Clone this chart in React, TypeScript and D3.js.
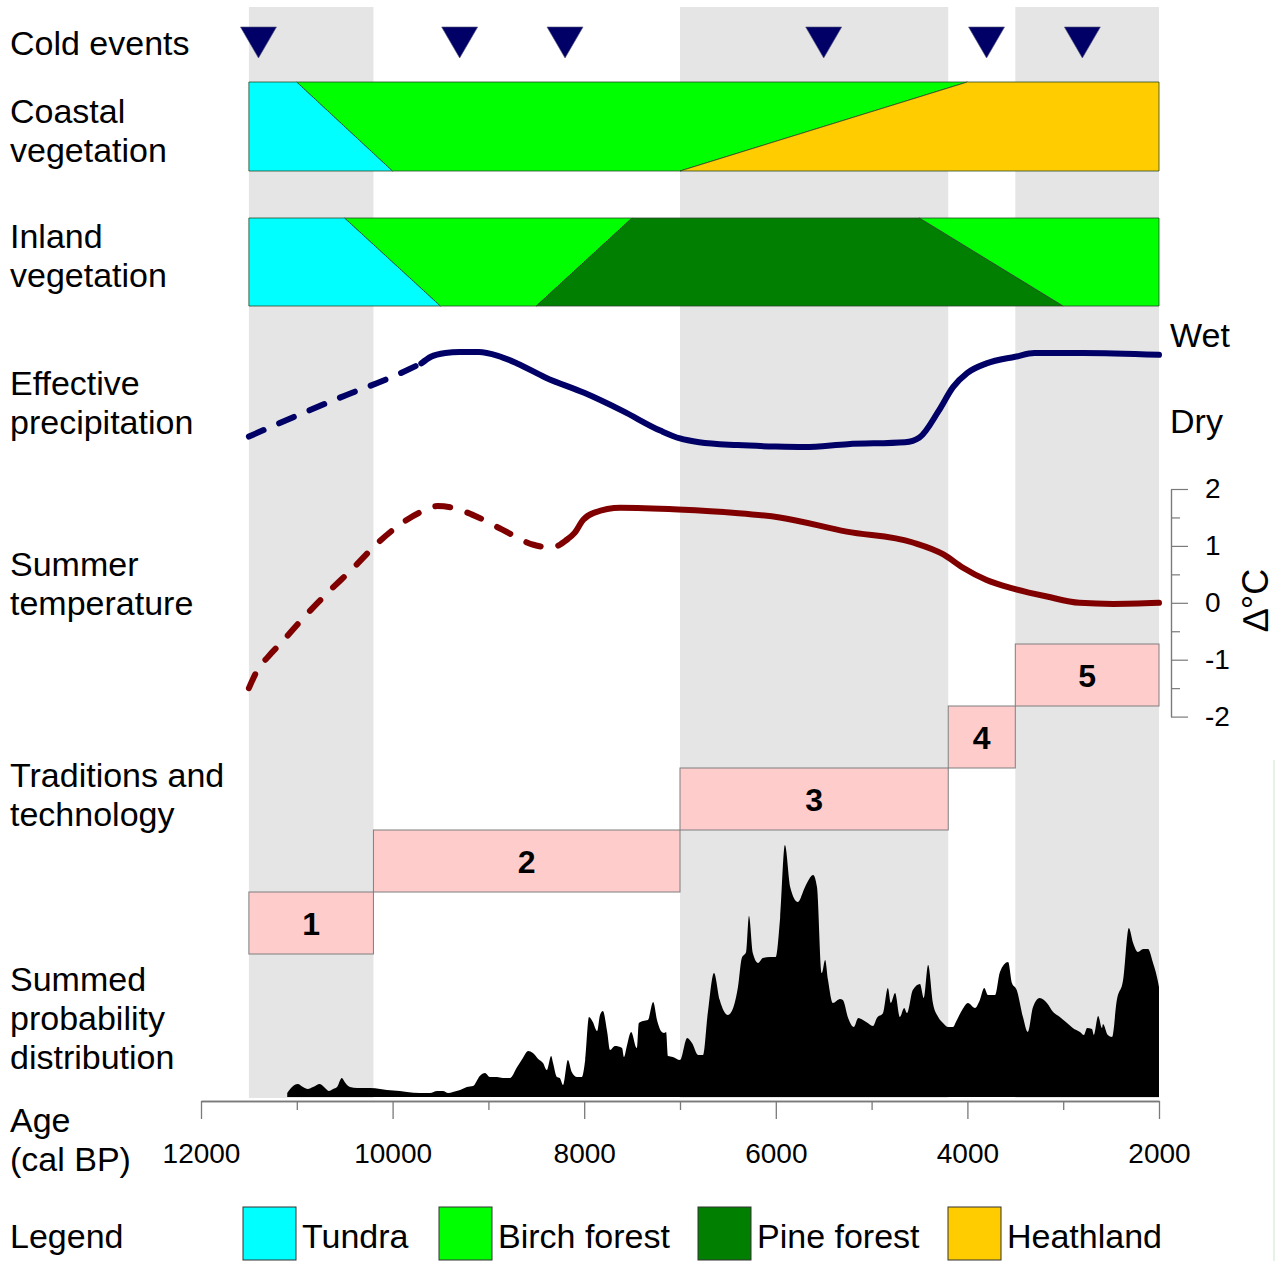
import React, { useEffect, useRef } from 'react';
import * as d3 from 'd3';

const W = 1283;
const H = 1261;
const FONT = '"Liberation Sans", Arial, sans-serif';

// cold events, cal BP
const coldEvents = [11400, 9300, 8200, 5500, 3800, 2800];

// traditions / technology periods (cal BP)
const periods = [[11500, 10200], [10200, 7000], [7000, 4200], [4200, 3500], [3500, 2000]];
const periodLabels = ['1', '2', '3', '4', '5'];

const vegTypes = ['Tundra', 'Birch forest', 'Pine forest', 'Heathland'];
const vegColors = ['#00ffff', '#00ff00', '#007f00', '#ffcc00'];

// zones: [type, top start, top end, bottom end, bottom start]
const coastalZones: [string, number, number, number, number][] = [
  ['Tundra', 11500, 11000, 10000, 11500],
  ['Birch forest', 11000, 4000, 7000, 10000],
  ['Heathland', 4000, 2000, 2000, 7000],
];
const inlandZones: [string, number, number, number, number][] = [
  ['Tundra', 11500, 10500, 9500, 11500],
  ['Birch forest', 10500, 7500, 8500, 9500],
  ['Pine forest', 7500, 4500, 3000, 8500],
  ['Birch forest', 4500, 2000, 2000, 3000],
];

// effective precipitation index (0 = dry, 1 = wet)
const precipDashed = [[11500, 0.11], [11000, 0.33], [10500, 0.54], [10000, 0.74], [9700, 0.88]];
const precipSolid = [
  [9700, 0.88], [9600, 0.95], [9450, 0.99], [9300, 1.0], [9100, 1.0], [8900, 0.96], [8700, 0.88],
  [8400, 0.73], [8000, 0.57], [7600, 0.38], [7200, 0.17], [7000, 0.09], [6800, 0.05], [6400, 0.02],
  [6000, 0.005], [5700, 0.0], [5250, 0.03], [4650, 0.05], [4500, 0.1], [4300, 0.38], [4150, 0.63],
  [4000, 0.78], [3800, 0.88], [3500, 0.95], [3300, 0.99], [2800, 0.99], [2000, 0.97],
];

// summer temperature anomaly, °C
const tempDashed = [
  [11500, -1.5], [11410, -1.18], [11300, -0.95], [11150, -0.68], [10950, -0.3], [10700, 0.14],
  [10400, 0.63], [10150, 1.06], [9850, 1.46], [9700, 1.6], [9530, 1.7], [9370, 1.67], [9170, 1.55],
  [8860, 1.29], [8530, 1.02], [8340, 0.97], [8180, 1.11],
];
const tempSolid = [
  [8180, 1.11], [8100, 1.23], [8010, 1.46], [7900, 1.58], [7620, 1.67], [7020, 1.64], [6420, 1.58],
  [5960, 1.5], [5260, 1.25], [4570, 1.06], [4250, 0.85], [4050, 0.62], [3800, 0.4], [3520, 0.25],
  [3170, 0.11], [2830, 0.0], [2480, -0.02], [2000, 0.0],
];

// summed probability distribution (relative, x1000)
const spd = [
  [11100, 0.04], [11050, 0.1], [10990, 0.13], [10935, 0.1], [10885, 0.08], [10830, 0.1],
  [10760, 0.13], [10705, 0.09], [10665, 0.06], [10620, 0.08], [10580, 0.1], [10530, 0.19], [10500, 0.15],
  [10445, 0.1], [10370, 0.09], [10235, 0.09], [10130, 0.08], [10060, 0.07], [9925, 0.06], [9850, 0.05],
  [9715, 0.04], [9610, 0.04], [9535, 0.06], [9475, 0.06], [9420, 0.04], [9370, 0.05], [9295, 0.07],
  [9225, 0.1], [9160, 0.11], [9090, 0.21], [9035, 0.24], [8985, 0.2], [8910, 0.2], [8850, 0.19],
  [8775, 0.19], [8700, 0.3], [8640, 0.39], [8585, 0.46], [8535, 0.44], [8480, 0.38], [8430, 0.34],
  [8390, 0.27], [8345, 0.41], [8325, 0.34], [8285, 0.2], [8255, 0.19], [8220, 0.12], [8170, 0.37],
  [8130, 0.25], [8075, 0.2], [8025, 0.2], [7990, 0.37], [7950, 0.8], [7910, 0.75], [7865, 0.66],
  [7835, 0.82], [7805, 0.86], [7760, 0.65], [7730, 0.47], [7680, 0.51], [7605, 0.49], [7585, 0.4],
  [7555, 0.51], [7510, 0.65], [7450, 0.49], [7430, 0.74], [7385, 0.76], [7335, 0.77], [7280, 0.95],
  [7240, 0.77], [7190, 0.65], [7165, 0.64], [7145, 0.65], [7125, 0.41], [7075, 0.4], [7000, 0.37],
  [6925, 0.59], [6875, 0.54], [6810, 0.42], [6760, 0.42], [6710, 0.84], [6645, 1.24], [6585, 0.97],
  [6500, 0.82], [6445, 0.89], [6395, 1.1], [6355, 1.39], [6310, 1.45], [6280, 1.81], [6240, 1.44],
  [6185, 1.34], [6135, 1.39], [6060, 1.4], [6000, 1.4], [5955, 1.79], [5905, 2.52], [5850, 2.1],
  [5770, 1.95], [5695, 2.1], [5610, 2.22], [5570, 2.1], [5520, 1.24], [5485, 1.37], [5455, 1.17],
  [5405, 0.94], [5330, 0.98], [5300, 0.97], [5245, 0.79], [5185, 0.7], [5140, 0.79], [5090, 0.77],
  [5040, 0.74], [4985, 0.71], [4945, 0.79], [4880, 0.84], [4830, 1.09], [4800, 0.94], [4755, 1.04],
  [4705, 0.8], [4660, 0.89], [4630, 0.84], [4570, 1.07], [4495, 1.13], [4455, 0.99], [4410, 1.32],
  [4360, 0.94], [4305, 0.8], [4255, 0.74], [4205, 0.7], [4150, 0.7], [4120, 0.75], [4055, 0.87],
  [3995, 0.94], [3920, 0.89], [3870, 0.97], [3825, 1.09], [3785, 1.02], [3710, 1.02], [3660, 1.25],
  [3575, 1.35], [3535, 1.14], [3485, 1.07], [3420, 0.8], [3370, 0.65], [3315, 0.9], [3245, 0.99],
  [3170, 0.94], [3105, 0.85], [3035, 0.8], [2960, 0.74], [2900, 0.69], [2825, 0.65], [2785, 0.62],
  [2750, 0.69], [2700, 0.68], [2680, 0.62], [2635, 0.81], [2595, 0.69], [2585, 0.73], [2535, 0.62],
  [2490, 0.6], [2440, 0.97], [2375, 1.17], [2315, 1.69], [2270, 1.54], [2220, 1.45], [2165, 1.48],
  [2115, 1.48], [2065, 1.35], [2010, 1.15], [2000, 1.1],
];

const rowLabels = [
  { lines: ['Cold events'], y: 55 },
  { lines: ['Coastal', 'vegetation'], y: 123 },
  { lines: ['Inland', 'vegetation'], y: 248 },
  { lines: ['Effective', 'precipitation'], y: 395 },
  { lines: ['Summer', 'temperature'], y: 576 },
  { lines: ['Traditions and', 'technology'], y: 787 },
  { lines: ['Summed', 'probability', 'distribution'], y: 991 },
  { lines: ['Age', '(cal BP)'], y: 1132 },
  { lines: ['Legend'], y: 1248 },
];

export default function App() {
  const ref = useRef<SVGSVGElement>(null);

  useEffect(() => {
    const svg = d3.select(ref.current);
    svg.selectAll('*').remove();
    svg.style('font-family', FONT);

    const x = d3.scaleLinear().domain([12000, 2000]).range([201, 1159]);
    const yPrecip = d3.scaleLinear().domain([0, 1]).range([447, 352]);
    const yTemp = d3.scaleLinear().domain([-2, 2]).range([716.6, 489]);
    const ySpd = d3.scaleLinear().domain([0, 2.52]).range([1097, 845]);
    const yTrad = d3.scaleLinear().domain([0, 5]).range([954, 644]);
    const color = d3.scaleOrdinal<string, string>().domain(vegTypes).range(vegColors);

    // grey shading behind periods 1, 3, 5
    svg.append('g').selectAll('rect')
      .data(periods.filter((d, i) => i % 2 === 0))
      .enter().append('rect')
      .attr('x', d => x(d[0]))
      .attr('width', d => x(d[1]) - x(d[0]))
      .attr('y', 7)
      .attr('height', 1091)
      .attr('fill', '#e5e5e5');

    // faint frame line on the right
    svg.append('line').attr('x1', 1274).attr('x2', 1274).attr('y1', 760).attr('y2', H)
      .attr('stroke', '#e6f2e6').attr('stroke-width', 2);

    // cold events
    svg.append('g').selectAll('path')
      .data(coldEvents)
      .enter().append('path')
      .attr('d', d => `M${x(d) - 18},27L${x(d) + 18},27L${x(d)},58Z`)
      .attr('fill', '#000066')
      .attr('stroke', '#55557a')
      .attr('stroke-width', 0.6);

    // vegetation bands
    const drawBand = (zones: [string, number, number, number, number][], top: number, bottom: number) => {
      const g = svg.append('g');
      g.selectAll('path')
        .data(zones)
        .enter().append('path')
        .attr('d', d => `M${x(d[1])},${top}L${x(d[2])},${top}L${x(d[3])},${bottom}L${x(d[4])},${bottom}Z`)
        .attr('fill', d => color(d[0]))
        .attr('stroke', '#2a4a2a')
        .attr('stroke-width', 0.8);
    };
    drawBand(coastalZones, 82, 171);
    drawBand(inlandZones, 218, 306);

    // precipitation
    const linePrecip = d3.line<number[]>()
      .x(d => x(d[0]))
      .y(d => yPrecip(d[1]))
      .curve(d3.curveMonotoneX);
    svg.append('path').attr('d', linePrecip(precipDashed))
      .attr('fill', 'none').attr('stroke', '#000066').attr('stroke-width', 6)
      .attr('stroke-linecap', 'round').attr('stroke-dasharray', '16 17');
    svg.append('path').attr('d', linePrecip(precipSolid))
      .attr('fill', 'none').attr('stroke', '#000066').attr('stroke-width', 6)
      .attr('stroke-linecap', 'round');

    // temperature
    const lineTemp = d3.line<number[]>()
      .x(d => x(d[0]))
      .y(d => yTemp(d[1]))
      .curve(d3.curveMonotoneX);
    svg.append('path').attr('d', lineTemp(tempDashed))
      .attr('fill', 'none').attr('stroke', '#800000').attr('stroke-width', 6)
      .attr('stroke-linecap', 'round').attr('stroke-dasharray', '15 18');
    svg.append('path').attr('d', lineTemp(tempSolid))
      .attr('fill', 'none').attr('stroke', '#800000').attr('stroke-width', 6)
      .attr('stroke-linecap', 'round');

    // temperature axis
    const tAxis = svg.append('g').attr('transform', 'translate(1171,0)');
    tAxis.append('g')
      .call(d3.axisRight(yTemp).tickValues([-1.5, -0.5, 0.5, 1.5]).tickSize(9).tickSizeOuter(0).tickFormat(() => ''));
    tAxis.append('g')
      .call(d3.axisRight(yTemp).tickValues([-2, -1, 0, 1, 2]).tickSize(17).tickPadding(17).tickSizeOuter(0)
        .tickFormat(d => String(d)));
    tAxis.selectAll('path,line').attr('stroke', '#7a7a7a').attr('stroke-width', 1.2);
    tAxis.selectAll('text').attr('font-size', 28).attr('font-family', FONT).attr('fill', '#000');

    svg.append('text')
      .attr('transform', 'translate(1255,600) rotate(-90)')
      .attr('text-anchor', 'middle').attr('dy', '0.35em')
      .attr('font-size', 36)
      .text('∆°C');

    svg.append('text').attr('x', 1170).attr('y', 347).attr('font-size', 34).text('Wet');
    svg.append('text').attr('x', 1170).attr('y', 433).attr('font-size', 34).text('Dry');

    // traditions
    const trad = svg.append('g').selectAll('g')
      .data(periods)
      .enter().append('g');
    trad.append('rect')
      .attr('x', d => x(d[0]))
      .attr('width', d => x(d[1]) - x(d[0]))
      .attr('y', (d, i) => yTrad(i + 1))
      .attr('height', (d, i) => yTrad(i) - yTrad(i + 1))
      .attr('fill', '#ffcccc')
      .attr('stroke', '#7f7f7f')
      .attr('stroke-width', 1);
    trad.append('text')
      .attr('x', d => (x(d[0]) + x(d[1])) / 2)
      .attr('y', (d, i) => (yTrad(i) + yTrad(i + 1)) / 2)
      .attr('dy', '0.36em')
      .attr('text-anchor', 'middle')
      .attr('font-size', 32)
      .attr('font-weight', 'bold')
      .text((d, i) => periodLabels[i]);

    // summed probability
    const area = d3.area<number[]>()
      .x(d => x(d[0]))
      .y0(ySpd(0))
      .y1(d => ySpd(d[1]))
      .curve(d3.curveMonotoneX);
    svg.append('path').attr('d', area(spd)).attr('fill', '#000');

    // age axis
    const ax = svg.append('g').attr('transform', 'translate(0,1101)');
    ax.append('g')
      .call(d3.axisBottom(x).tickValues(d3.range(11000, 2000, -2000)).tickSize(9).tickSizeOuter(0).tickFormat(() => ''));
    ax.append('g')
      .call(d3.axisBottom(x).tickValues(d3.range(12000, 1999, -2000)).tickSize(18).tickPadding(24).tickSizeOuter(0)
        .tickFormat(d => String(d)));
    ax.selectAll('path,line').attr('stroke', '#7a7a7a').attr('stroke-width', 1.3);
    ax.selectAll('text').attr('font-size', 28).attr('font-family', FONT).attr('fill', '#000');

    // row labels
    const labels = svg.append('g').attr('font-size', 34);
    rowLabels.forEach(r => {
      r.lines.forEach((l, i) => {
        labels.append('text').attr('x', 10).attr('y', r.y + i * 39).text(l);
      });
    });

    // legend
    const leg = svg.append('g');
    const legX = [243, 439, 698, 948];
    vegTypes.forEach((t, i) => {
      leg.append('rect')
        .attr('x', legX[i]).attr('y', 1207).attr('width', 53).attr('height', 53)
        .attr('fill', vegColors[i]).attr('stroke', '#333').attr('stroke-width', 1);
      leg.append('text')
        .attr('x', legX[i] + 59).attr('y', 1248)
        .attr('font-size', 34).text(t);
    });
  }, []);

  return (
    <div style={{ position: 'absolute', left: 0, top: 0 }}>
      <svg ref={ref} width={W} height={H} style={{ display: 'block', background: '#fff' }} />
    </div>
  );
}
